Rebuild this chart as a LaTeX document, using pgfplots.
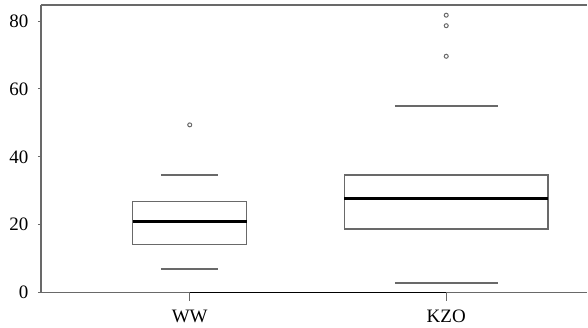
\documentclass[border=0pt]{standalone}
\usepackage{fontspec}
\setmainfont{Liberation Serif}
\usepackage{pgfplots}
\pgfplotsset{compat=1.18}
\usepgfplotslibrary{statistics}
\definecolor{axgray}{RGB}{105,105,105}
\begin{document}
\begin{tikzpicture}
\begin{axis}[name=ax,
  scale only axis, width=547pt, height=288pt,
  xmin=0.42, xmax=2.55, ymin=0, ymax=84.7,
  axis x line*=box, axis y line*=left,
  xtick pos=bottom,
  axis line style={axgray, line width=1.4pt},
  xtick={1,2}, xticklabels={WW,KZO},
  ytick={0,20,40,60,80},
  tick align=outside,
  major tick length=3pt,
  tick style={axgray, line width=0.8pt},
  /pgf/number format/assume math mode=true,
  tick label style={font=\fontsize{19}{22}\selectfont},
  yticklabel style={xshift=-6pt},
  xticklabel style={yshift=-11pt},
  clip=false,
  boxplot/draw direction=y,
  boxplot/draw/whisker/.code 2 args={%
    \draw[/pgfplots/boxplot/every whisker/.try]
      (boxplot whisker cs:#2,0) -- (boxplot whisker cs:#2,1);},
  boxplot/every box/.style={draw=axgray, line width=1.4pt},
  boxplot/every whisker/.style={draw=axgray, line width=1.5pt},
  boxplot/every median/.style={draw=black, line width=2.4pt},
]
\addplot[boxplot prepared={median=21.0, upper quartile=26.9, lower quartile=14.1,
  upper whisker=34.6, lower whisker=7.0, draw position=1,
  box extend=0.444, whisker extend=0.224},
  draw=axgray, mark=o, mark size=2pt, mark options={draw=axgray, line width=1pt}]
  table[row sep=\\, y index=0] {49.4\\};
\addplot[boxplot prepared={median=27.7, upper quartile=34.7, lower quartile=18.8,
  upper whisker=55.0, lower whisker=2.85, draw position=2,
  box extend=0.795, whisker extend=0.40},
  draw=axgray, mark=o, mark size=2pt, mark options={draw=axgray, line width=1pt}]
  table[row sep=\\, y index=0] {81.7\\ 78.6\\ 69.6\\};
\addplot[black, line width=1.4pt, no marks, forget plot] coordinates {(1,0) (2,0)};
\addplot[axgray, line width=1pt, no marks, forget plot] coordinates {(1,0) (1,-2.6)};
\addplot[axgray, line width=1pt, no marks, forget plot] coordinates {(2,0) (2,-2.6)};
\end{axis}
\path ([shift={(-41pt,-35pt)}]ax.south west) rectangle ([shift={(0pt,5pt)}]ax.north east);
\end{tikzpicture}
\end{document}
